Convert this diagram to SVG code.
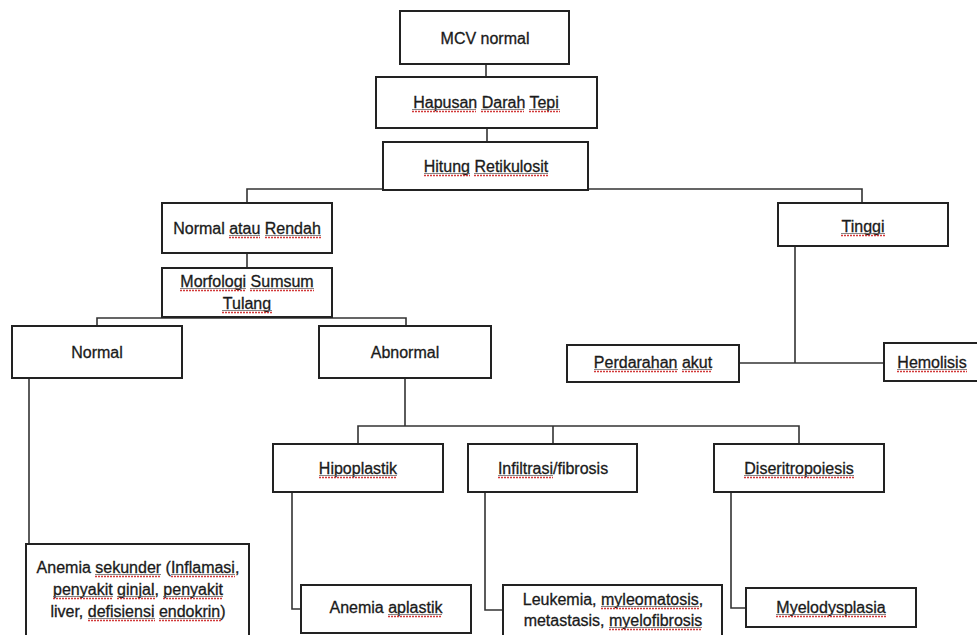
<svg xmlns="http://www.w3.org/2000/svg" width="977" height="635" viewBox="0 0 977 635">
<style>
.box{fill:#fff;stroke:#222;stroke-width:2}
.t{font-family:"Liberation Sans",Arial,sans-serif;font-size:16px;fill:#1a1a1a;stroke:#1a1a1a;stroke-width:0.3;text-anchor:middle}
.c{fill:none;stroke:#333;stroke-width:1.6}
.sq{fill:none;stroke:#d23a3a;stroke-width:1.3;stroke-dasharray:2 1}
.ul{fill:none;stroke:#666;stroke-width:0.8}
</style>
<rect width="977" height="635" fill="#fff"/>
<g id="connectors">
<path class="c" d="M486 64V77"/>
<path class="c" d="M487 128V142"/>
<path class="c" d="M247 203V189H862V203"/>
<path class="c" d="M247 253V268"/>
<path class="c" d="M97 326V318H406V326"/>
<path class="c" d="M29 378V588"/>
<path class="c" d="M795 246V363"/>
<path class="c" d="M739 363H884"/>
<path class="c" d="M405 378V426"/>
<path class="c" d="M358 444V426H799V444"/>
<path class="c" d="M553 426V444"/>
<path class="c" d="M292 492V609H301"/>
<path class="c" d="M485 492V610H503"/>
<path class="c" d="M731 492V608H746"/>
</g>
<g id="mcv"><rect class="box" x="400" y="11" width="169" height="53"/><text class="t" x="485" y="44">MCV normal</text></g>
<g id="hapusan"><rect class="box" x="376" y="77" width="221" height="51"/><text class="t" x="486" y="108">Hapusan Darah Tepi</text>
<path class="ul" d="M412 109.5H476M481 109.5H524M529 109.5H560"/><path class="sq" d="M412 111.5H476M481 111.5H524M529 111.5H560"/></g>
<g id="hitung"><rect class="box" x="383" y="142" width="205" height="48"/><text class="t" x="486" y="172">Hitung Retikulosit</text>
<path class="ul" d="M424 173.5H470M474 173.5H548"/><path class="sq" d="M424 175.5H470M474 175.5H548"/></g>
<g id="normal-rendah"><rect class="box" x="162" y="203" width="170" height="50"/><text class="t" x="247" y="234">Normal atau Rendah</text>
<path class="ul" d="M229 235.5H260M265 235.5H321"/><path class="sq" d="M229 237.5H260M265 237.5H321"/></g>
<g id="morfologi"><rect class="box" x="162" y="268" width="170" height="49"/><text class="t" x="247" y="287">Morfologi Sumsum</text><text class="t" x="247" y="309">Tulang</text>
<path class="ul" d="M180 288.5H246M250 288.5H314M222 310.5H272"/><path class="sq" d="M180 290.5H246M250 290.5H314M222 312.5H272"/></g>
<g id="tinggi"><rect class="box" x="778" y="203" width="170" height="43"/><text class="t" x="863" y="232">Tinggi</text>
<path class="ul" d="M841 233.5H885"/><path class="sq" d="M841 235.5H885"/></g>
<g id="normal"><rect class="box" x="12" y="326" width="170" height="52"/><text class="t" x="97" y="358">Normal</text></g>
<g id="abnormal"><rect class="box" x="319" y="326" width="172" height="52"/><text class="t" x="405" y="358">Abnormal</text></g>
<g id="perdarahan"><rect class="box" x="567" y="345" width="172" height="37"/><text class="t" x="653" y="368">Perdarahan akut</text>
<path class="ul" d="M594 369.5H678M682 369.5H712"/><path class="sq" d="M594 371.5H678M682 371.5H712"/></g>
<g id="hemolisis"><rect class="box" x="884" y="343" width="100" height="38"/><text class="t" x="932" y="368">Hemolisis</text>
<path class="ul" d="M897 369.5H967"/><path class="sq" d="M897 371.5H967"/></g>
<g id="hipoplastik"><rect class="box" x="273" y="444" width="170" height="48"/><text class="t" x="358" y="474">Hipoplastik</text>
<path class="ul" d="M319 475.5H397"/><path class="sq" d="M319 477.5H397"/></g>
<g id="infiltrasi"><rect class="box" x="468" y="444" width="169" height="48"/><text class="t" x="553" y="474">Infiltrasi/fibrosis</text>
<path class="ul" d="M498 475.5H553"/><path class="sq" d="M498 477.5H553"/></g>
<g id="diseritropoiesis"><rect class="box" x="714" y="444" width="170" height="48"/><text class="t" x="799" y="474">Diseritropoiesis</text>
<path class="ul" d="M744 475.5H854"/><path class="sq" d="M744 477.5H854"/></g>
<g id="anemia-sekunder"><rect class="box" x="26" y="544" width="223" height="95"/><text class="t" x="138" y="573">Anemia sekunder (Inflamasi,</text><text class="t" x="138" y="595">penyakit ginjal, penyakit</text><text class="t" x="138" y="617">liver, defisiensi endokrin)</text>
<path class="ul" d="M95 574.5H161M171 574.5H235M53 596.5H113M117 596.5H155M163 596.5H223M88 618.5H155M159 618.5H221"/><path class="sq" d="M95 576.5H161M171 576.5H235M53 598.5H113M117 598.5H155M163 598.5H223M88 620.5H155M159 620.5H221"/></g>
<g id="anemia-aplastik"><rect class="box" x="301" y="585" width="170" height="48"/><text class="t" x="386" y="613">Anemia aplastik</text>
<path class="ul" d="M388 614.5H442"/><path class="sq" d="M388 616.5H442"/></g>
<g id="leukemia"><rect class="box" x="503" y="585" width="219" height="55"/><text class="t" x="613" y="605">Leukemia, myleomatosis,</text><text class="t" x="613" y="626">metastasis, myelofibrosis</text>
<path class="ul" d="M601 606.5H699M609 627.5H702"/><path class="sq" d="M601 608.5H699M609 629.5H702"/></g>
<g id="myelodysplasia"><rect class="box" x="746" y="588" width="170" height="39"/><text class="t" x="831" y="613">Myelodysplasia</text>
<path class="ul" d="M776 614.5H886"/><path class="sq" d="M776 616.5H886"/></g>
</svg>
